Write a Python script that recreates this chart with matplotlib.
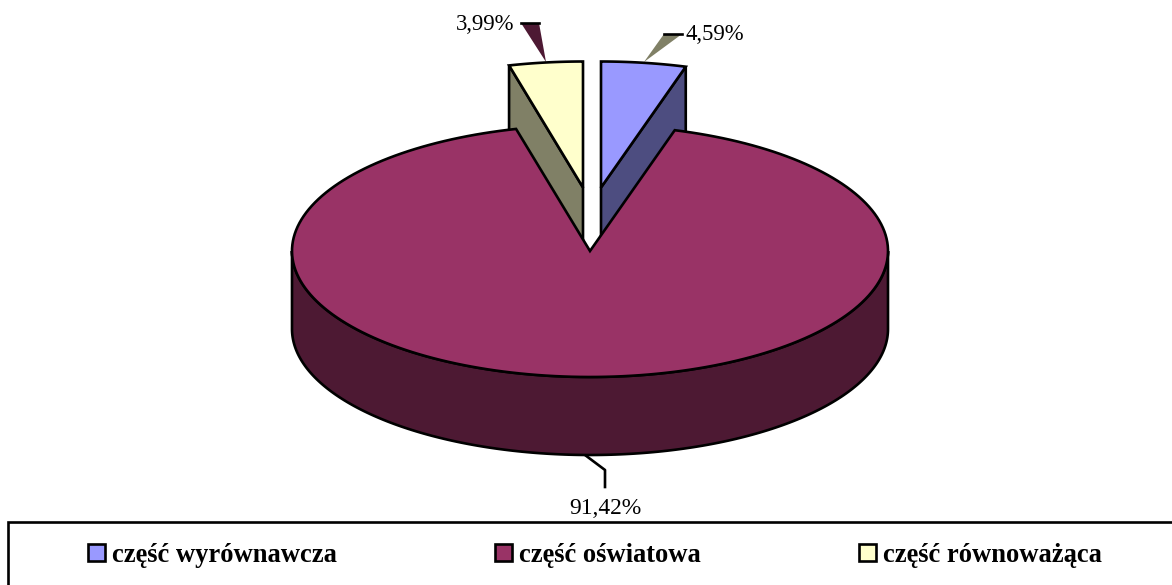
import numpy as np
import matplotlib
matplotlib.use("Agg")
import matplotlib.pyplot as plt
from matplotlib.patches import Patch, Rectangle

names = ["część wyrównawcza", "część oświatowa", "część równoważąca"]
shares = [4.59, 91.42, 3.99]
colors_top = ["#9999FF", "#993366", "#FFFFCC"]
colors_side = ["#4D4D80", "#4D1933", "#808066"]

# pie geometry in pixels
cx, cy = 590, 251
rx, ry = 298, 126
depth = 78
explode = [(11, -63.5), (0, 0), (-7, -63.5)]
lw = 1.9


def arc(a0, a1, dx=0, dy=0, n=200):
    # angles in degrees, clockwise from 12 o'clock
    t = np.radians(np.linspace(a0, a1, n))
    return np.column_stack([cx + dx + rx * np.sin(t), cy + dy - ry * np.cos(t)])


def wedge(a0, a1, dx, dy):
    return np.vstack([[cx + dx, cy + dy], arc(a0, a1, dx, dy)])


def cut_face(angle, dx, dy):
    p = arc(angle, angle, dx, dy, n=1)[0]
    return [[cx + dx, cy + dy], p, p + [0, depth], [cx + dx, cy + dy + depth]]


def poly(ax, pts, color, z):
    pts = np.asarray(pts)
    ax.fill(pts[:, 0], pts[:, 1], facecolor=color, edgecolor="black", linewidth=lw,
            joinstyle="miter", zorder=z)


def leader(ax, pts, color):
    pts = np.asarray(pts)
    ax.fill(pts[:, 0], pts[:, 1], facecolor=color, edgecolor="none", zorder=1)
    ax.plot(pts[1:, 0], pts[1:, 1], color="black", linewidth=lw, zorder=1)


edges = np.concatenate([[0], np.cumsum(shares)]) / sum(shares) * 360

fig = plt.figure(figsize=(11.72, 5.85), dpi=100)
ax = fig.add_axes([0, 0, 1, 1])
ax.set_xlim(0, 1172)
ax.set_ylim(585, 0)
ax.axis("off")

# cut faces of the pulled out slices, behind the big one
poly(ax, cut_face(edges[1], *explode[0]), colors_side[0], 2)
poly(ax, cut_face(edges[2], *explode[2]), colors_side[2], 2)

# front wall and top of the big slice
wall = np.vstack([arc(90, 270), arc(90, 270, 0, depth)[::-1]])
poly(ax, wall, colors_side[1], 3)
poly(ax, wedge(edges[1], edges[2], 0, 0), colors_top[1], 4)

# tops of the small slices
poly(ax, wedge(edges[0], edges[1], *explode[0]), colors_top[0], 5)
poly(ax, wedge(edges[2], edges[3], *explode[2]), colors_top[2], 5)

# leader lines
leader(ax, [(644, 62), (664, 34), (682, 34)], colors_side[2])
leader(ax, [(546, 62), (521, 23), (539, 23)], colors_side[1])
ax.plot([585, 605, 605], [455, 470, 487], color="black", linewidth=lw, zorder=1)

# value labels
labels = [f"{v:.2f}%".replace(".", ",") for v in shares]
serif = "Liberation Serif"
ax.text(686, 35, labels[0], family=serif, fontsize=16.4, ha="left", va="center")
ax.text(605, 508, labels[1], family=serif, fontsize=16.9, ha="center", va="center")
ax.text(514, 24, labels[2], family=serif, fontsize=16.4, ha="right", va="center")

# legend box runs off the right and bottom edge
ax.add_patch(Rectangle((8, 522), 1200, 100, facecolor="white", edgecolor="black",
                       linewidth=lw, zorder=6))
handles = [Patch(facecolor=c, edgecolor="black", linewidth=lw) for c in colors_top]
ax.legend(handles, names, ncol=3, frameon=False, loc="center left",
          bbox_to_anchor=(88, 555.5), bbox_transform=ax.transData, borderpad=0,
          borderaxespad=0, handlelength=0.64, handleheight=0.64, handletextpad=0.27,
          columnspacing=5.96, prop={"family": serif, "weight": "bold", "size": 19.1}).set_zorder(7)

plt.savefig("out.png", dpi=100)
